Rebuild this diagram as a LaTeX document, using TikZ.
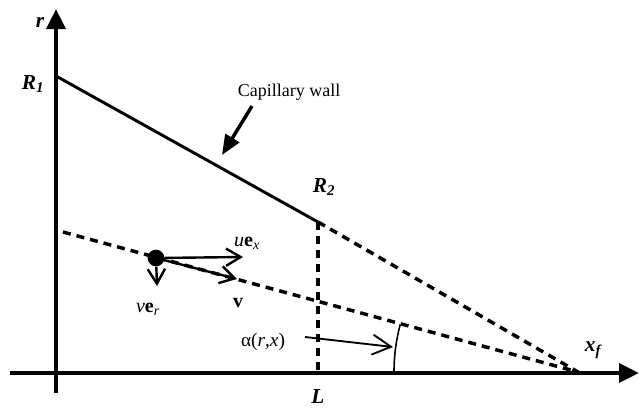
\documentclass[tikz,border=0pt]{standalone}
\usepackage{fontspec}
\setmainfont{Liberation Serif}
\usepackage{tikz}
\usetikzlibrary{calc,positioning,arrows.meta}

\begin{document}
\begin{tikzpicture}[x=0.75pt,y=-0.75pt,
  axis/.style={line width=3.2pt,-{Triangle[length=15pt,width=14pt]}},
  wall/.style={line width=2.2pt},
  guide/.style={line width=2.6pt,dash pattern=on 6pt off 4.5pt},
  vec/.style={line width=1.8pt,-{Straight Barb[length=11pt,width=13pt,line width=1.8pt]}},
  lbl/.style={font=\fontsize{16}{18}\selectfont\bfseries\itshape,inner sep=0pt},
  txt/.style={font=\fontsize{13.5}{16}\selectfont,inner sep=0pt}]
  \useasboundingbox (0,0) rectangle (639,411);
  % axes
  \coordinate (rbot) at (56,393);
  \coordinate (rtop) at (56,9);
  \coordinate (xleft) at (10,373);
  \coordinate (xright) at (639,373);
  \draw[axis] (xleft) -- (xright);
  \draw[axis] (rbot) -- (rtop);
  % wall and guide lines
  \coordinate (R1) at (56,76);
  \coordinate (R2) at (318,222);
  \coordinate (xf) at (578,372);
  \coordinate (L) at (318,373);
  \coordinate (A) at (63,232);
  \draw[wall] (R1) -- (R2);
  \draw[guide] (R2) -- (xf);
  \draw[guide] (R2) -- (L);
  \draw[guide] (A) -- (xf);
  \node[lbl] (rlab) at (40,22) {r};
  \node[lbl] (R1lab) at (33,84) {R\textsubscript{1}};
  \node[lbl] (R2lab) at (324,187) {R\textsubscript{2}};
  \node[lbl] (Llab) at (318,397) {L};
  \node[lbl] (xflab) at (593,350) {x\textsubscript{f}};
  % capillary wall
  \node[txt] (cw) at (289,92) {Capillary wall};
  \coordinate (cwtail) at (252,106);
  \coordinate (cwtip) at (222,155);
  \draw[line width=2.6pt,-{Triangle[length=15pt,width=12pt]}] (cwtail) -- (cwtip);
  % particle and velocities
  \node[circle,fill,inner sep=0pt,minimum size=12.5pt] (P) at (156,258) {};
  \coordinate (ue) at (243,257);
  \coordinate (vv) at (237,279);
  \coordinate (ve) at (157,286);
  \draw[vec] (P) -- (ue);
  \draw[vec] (P) -- (vv);
  \draw[vec] (P) -- (ve);
  \node[txt,font=\fontsize{15}{17}\selectfont] (uelab) at (247,243) {\textit{u}\textbf{e}\textsubscript{\textit{x}}};
  \node[txt,font=\fontsize{15}{17}\selectfont] (vlab) at (238,303) {\textbf{v}};
  \node[txt,font=\fontsize{15}{17}\selectfont] (velab) at (148,309) {\textit{v}\textbf{e}\textsubscript{\textit{r}}};
  % angle
  \draw[line width=1.2pt] (xf) ++(180:184) arc[start angle=180,end angle=195,radius=184];
  \node[txt,font=\fontsize{14.5}{17}\selectfont] (al) at (263,342) {α(\textit{r},\textit{x})};
  \coordinate (aT) at (305,337);
  \coordinate (aH) at (393,347);
  \draw[line width=1.4pt,-{Straight Barb[length=14pt,width=15pt,line width=1.4pt]}] (aT) -- (aH);
\end{tikzpicture}
\end{document}
